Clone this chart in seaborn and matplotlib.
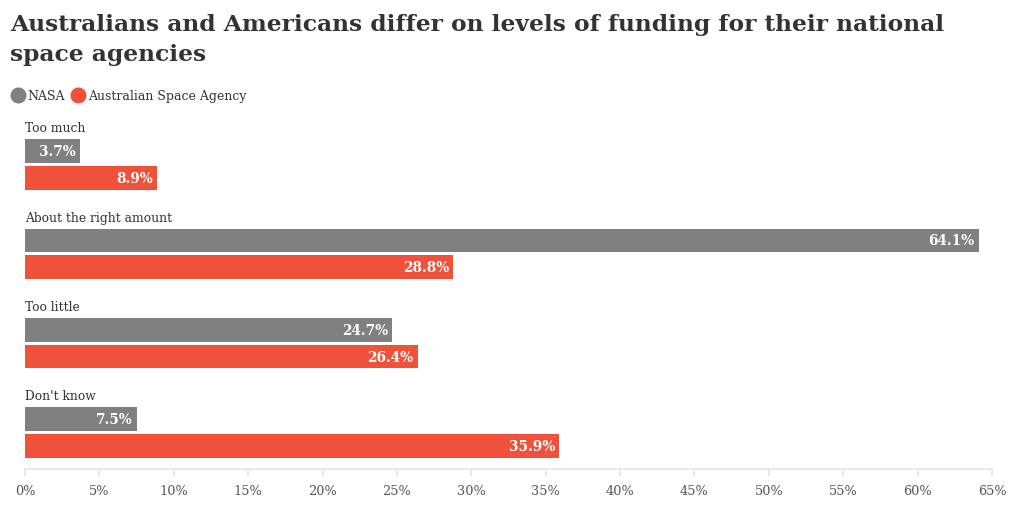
import pandas as pd
import matplotlib
matplotlib.use("Agg")
import matplotlib.pyplot as plt
import seaborn as sns
from matplotlib.lines import Line2D

# data
responses = ["Too much", "About the right amount", "Too little", "Don't know"]
nasa = [3.7, 64.1, 24.7, 7.5]
asa = [8.9, 28.8, 26.4, 35.9]
agencies = ["NASA", "Australian Space Agency"]
ticks = list(range(0, 70, 5))
tick_labels = [f"{t}%" for t in ticks]

colors = {"NASA": "#808080", "Australian Space Agency": "#f0513a"}

df = pd.DataFrame({
    "response": responses * 2,
    "agency": [agencies[0]] * 4 + [agencies[1]] * 4,
    "value": nasa + asa,
})

sns.set_theme(style="white")
plt.rcParams["font.family"] = ["DejaVu Serif"]

fig = plt.figure(figsize=(10.2, 5.06), dpi=100)
ax = fig.add_axes([25 / 1020, 1 - 470 / 506, 967 / 1020, 358 / 506])

sns.barplot(data=df, x="value", y="response", hue="agency", order=responses,
            hue_order=agencies, palette=colors, orient="h", width=0.6,
            gap=0.12, saturation=1, legend=False, linewidth=0, ax=ax)

# value labels inside the bar ends
for c in ax.containers:
    labels = ax.bar_label(c, fmt="%.1f%%", padding=-3, color="white",
                          fontweight="bold", fontsize=9.8)
    for t in labels:
        t.set_ha("right")

# category label above each group
for i, r in enumerate(responses):
    ax.text(0, i - 0.41, r, ha="left", va="center", fontsize=8.8, color="#333333")

ax.set_xlim(0, 65)
ax.set_ylim(3.41, -0.6)
ax.set_xticks(ticks)
ax.set_xticklabels(tick_labels)
ax.set_yticks([])
ax.set_xlabel("")
ax.set_ylabel("")
ax.tick_params(axis="x", length=5, color="#e6e6e6", labelsize=9.3,
               labelcolor="#555555", pad=6, bottom=True)
for s in ["top", "right", "left"]:
    ax.spines[s].set_visible(False)
ax.spines["bottom"].set_color("#e6e6e6")

fig.text(10 / 1020, 1 - 14 / 506,
         "Australians and Americans differ on levels of funding for their national\nspace agencies",
         ha="left", va="top", fontsize=16.8, fontweight="bold", color="#333333",
         linespacing=1.45)

handles = [Line2D([], [], marker="o", linestyle="", markersize=10.5,
                  color=colors[a]) for a in agencies]
fig.legend(handles, agencies, loc="upper left", bbox_to_anchor=(12 / 1020, 1 - 90 / 506),
           frameon=False, ncol=2, handletextpad=0.35, columnspacing=0.6,
           fontsize=9, labelcolor="#333333", handlelength=0.9,
           borderaxespad=0, borderpad=0)

fig.savefig("out.png", dpi=100)
